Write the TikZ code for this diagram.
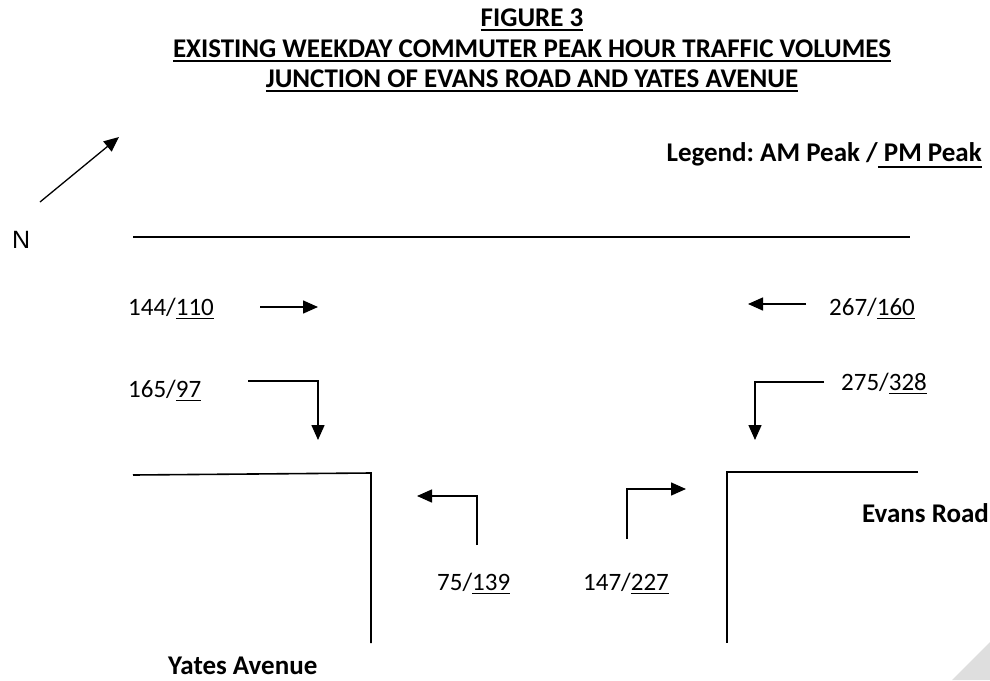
\documentclass[tikz,border=0pt]{standalone}
\usepackage{fontspec}
\setmainfont{Carlito}
\newfontfamily\arialfont{Liberation Sans}
\usetikzlibrary{arrows.meta}
\frenchspacing
\newcommand\myul[3][5pt]{\setbox0\hbox{#3}\leavevmode\rlap{\rule[-#1]{\wd0}{#2}}\box0}
\begin{document}
\begin{tikzpicture}[x=1pt,y=-1pt,
  road/.style={line width=1.6pt},
  flow/.style={line width=1.5pt,-{Triangle[length=15pt,width=13pt]}},
  vol/.style={font=\fontsize{25}{30}\selectfont, anchor=base west, inner sep=0pt},
  lbl/.style={font=\fontsize{27}{32}\selectfont\bfseries, anchor=base west, inner sep=0pt},
  ttl/.style={font=\fontsize{27}{32}\selectfont\bfseries, anchor=base, inner sep=0pt}]
\useasboundingbox (0,0) rectangle (990,680);
\fill[black!13] (952,680) -- (990,642) -- (990,680) -- cycle;
% title
\node[ttl] (t1) at (532,26) {\myul{1.8pt}{FIGURE 3}};
\node[ttl] (t2) at (532,57) {\myul{1.8pt}{EXISTING WEEKDAY COMMUTER PEAK HOUR TRAFFIC VOLUMES}};
\node[ttl] (t3) at (532,87) {\myul{1.8pt}{JUNCTION OF EVANS ROAD AND YATES AVENUE}};
% legend
\node[lbl, anchor=base east] (leg) at (982,161) {Legend: AM Peak /\myul[7pt]{1.8pt}{ PM Peak}};
% north arrow
\node[font=\arialfont\fontsize{25}{30}\selectfont, anchor=base west, inner sep=0pt] (N) at (12,248) {N};
\coordinate (nS) at (40,202);
\coordinate (nE) at (119,137);
\draw[line width=1.3pt,-{Triangle[length=15pt,width=13pt]}] (nS) -- (nE);
% roads
\coordinate (r1) at (133,237); \coordinate (r2) at (910,237);
\draw[road] (r1) -- (r2);
\coordinate (l1) at (133,475); \coordinate (l2) at (371,473); \coordinate (l3) at (371,643);
\draw[road] (l1) -- (l2) -- (l3);
\coordinate (e1) at (918,472); \coordinate (e2) at (727,472); \coordinate (e3) at (727,643);
\draw[road] (e1) -- (e2) -- (e3);
% volumes
\node[vol] (v1) at (128,315) {144/\myul[4pt]{1.4pt}{110}};
\node[vol] (v2) at (128,397) {165/\myul[4pt]{1.4pt}{97}};
\node[vol] (v3) at (829,315) {267/\myul[4pt]{1.4pt}{160}};
\node[vol] (v4) at (841,390) {275/\myul[4pt]{1.4pt}{328}};
\node[vol] (v5) at (437,590) {75/\myul[4pt]{1.4pt}{139}};
\node[vol] (v6) at (583,590) {147/\myul[4pt]{1.4pt}{227}};
% street names
\node[lbl] (evans) at (862,522) {Evans Road};
\node[lbl] (yates) at (168,674) {Yates Avenue};
% movement arrows
\coordinate (a1s) at (260,307); \coordinate (a1e) at (318,307);
\draw[flow] (a1s) -- (a1e);
\coordinate (a2s) at (248,381); \coordinate (a2e) at (318,440);
\draw[flow] (a2s) -| (a2e);
\coordinate (a3s) at (806,304); \coordinate (a3e) at (748,304);
\draw[flow] (a3s) -- (a3e);
\coordinate (a4s) at (824,382); \coordinate (a4e) at (755,440);
\draw[flow] (a4s) -| (a4e);
\coordinate (a5s) at (477,545); \coordinate (a5e) at (417,496);
\draw[flow] (a5s) |- (a5e);
\coordinate (a6s) at (627,539); \coordinate (a6e) at (686,489);
\draw[flow] (a6s) |- (a6e);
\end{tikzpicture}
\end{document}
